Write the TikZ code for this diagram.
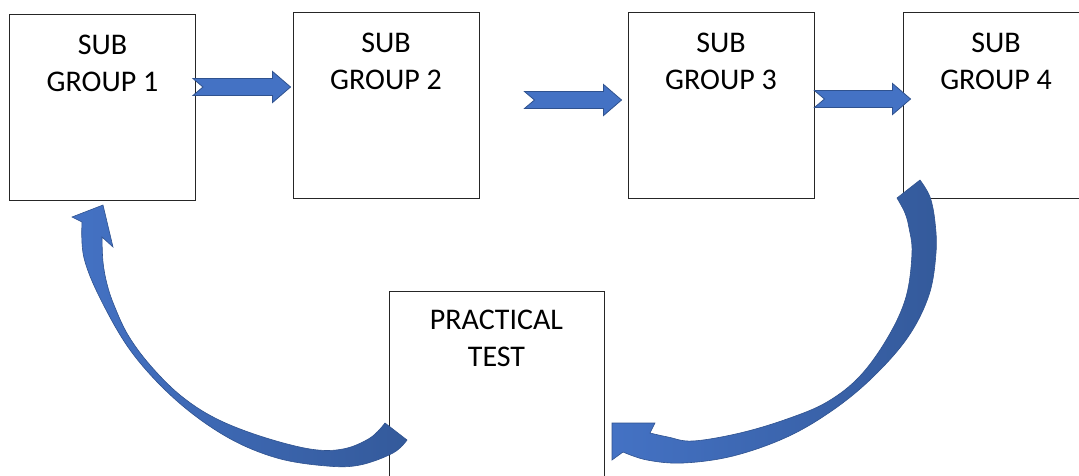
\documentclass[tikz,border=0pt]{standalone}
\usepackage{fontspec}
\setmainfont{Carlito}
\usetikzlibrary{positioning,calc}
\definecolor{arrowfill}{HTML}{4472C4}
\definecolor{arrowdark}{HTML}{345A9B}
\definecolor{arrowedge}{HTML}{2F528F}
\tikzset{
  groupbox/.style={draw=black!85, line width=0.9pt, minimum width=186pt, minimum height=186pt, inner sep=0pt},
  boxtext/.style={font=\fontsize{30}{37}\selectfont, align=center, inner sep=0pt},
  blockarrow/.style={fill=arrowfill, draw=arrowedge, line width=0.8pt},
  curvearrow/.style={left color=arrowfill, right color=arrowdark, draw=arrowedge, line width=0.6pt}
}
% straight block arrow with notched tail, from #1 to the x of #2
\newcommand{\blockarrow}[2]{%
  \path[blockarrow] let \p1=#1, \p2=#2 in
    (\x1,\y1+8.5pt) -- (\x2-18pt,\y1+8.5pt) -- (\x2-18pt,\y1+15.5pt) -- (\x2,\y1)
    -- (\x2-18pt,\y1-15.5pt) -- (\x2-18pt,\y1-8.5pt) -- (\x1,\y1-8.5pt) -- (\x1+10pt,\y1) -- cycle;}
\begin{document}
\begin{tikzpicture}[x=1pt,y=-1pt]
    \useasboundingbox (0,0) rectangle (1079,475);
    \clip (0,0) rectangle (1079,475);
    \fill[white] (0,0) rectangle (1079,475);

    \node[groupbox] (g1) at (102.5,107) {};
    \node[groupbox] (g2) at (386,105) {};
    \node[groupbox] (g3) at (721,105.5) {};
    \node[groupbox] (g4) at (996,105.5) {};
    \node[groupbox, minimum width=215pt, minimum height=200pt] (test) at (496.5,391) {};

    \node[boxtext, below=21pt of g1.north] (g1t) {SUB\\GROUP 1};
    \node[boxtext, below=21pt of g2.north] (g2t) {SUB\\GROUP 2};
    \node[boxtext, below=21pt of g3.north] (g3t) {SUB\\GROUP 3};
    \node[boxtext, below=21pt of g4.north] (g4t) {SUB\\GROUP 4};
    \node[boxtext, below=19pt of test.north] (testt) {PRACTICAL\\TEST};

    \blockarrow{($(g1.east)+(-3,-20)$)}{($(g2.west)+(-2,0)$)}
    \blockarrow{($(g2.east)+(45,-5)$)}{($(g3.west)+(-6,0)$)}
    \blockarrow{($(g3.east)+(0,-6.5)$)}{($(g4.west)+(8,0)$)}

    % curved arrow back to sub group 1
    \shadedraw[curvearrow] plot[smooth, tension=0.6] coordinates {(407,440) (393,453) (360,465) (327,466) (277,458) (227,437) (177,401) (133,354) (102,302) (84,258) (82,222)}
        -- (72,217) -- (103,205) -- (113,247)
        -- plot[smooth, tension=0.6] coordinates {(102,237) (103,262) (107,284) (114,305) (128,335) (150,365) (180,395) (215,418) (260,436) (310,449) (343,449) (370,438) (385,423)}
        -- cycle;
    % curved arrow from sub group 4 to the test
    \shadedraw[curvearrow] plot[smooth, tension=0.6] coordinates {(920,180) (930,197) (935,222) (936,253) (929,295) (908,337) (873,377) (833,410) (787,437) (733,456) (683,463) (647,460) (623,452)}
        -- (612,460) -- (612,423) -- (655,423)
        -- plot[smooth, tension=0.6] coordinates {(650,433) (668,437) (693,441) (740,433) (787,419) (827,402) (860,376) (888,337) (906,297) (912,253) (909,228) (905,213) (897,198)}
        -- cycle;
\end{tikzpicture}
\end{document}
